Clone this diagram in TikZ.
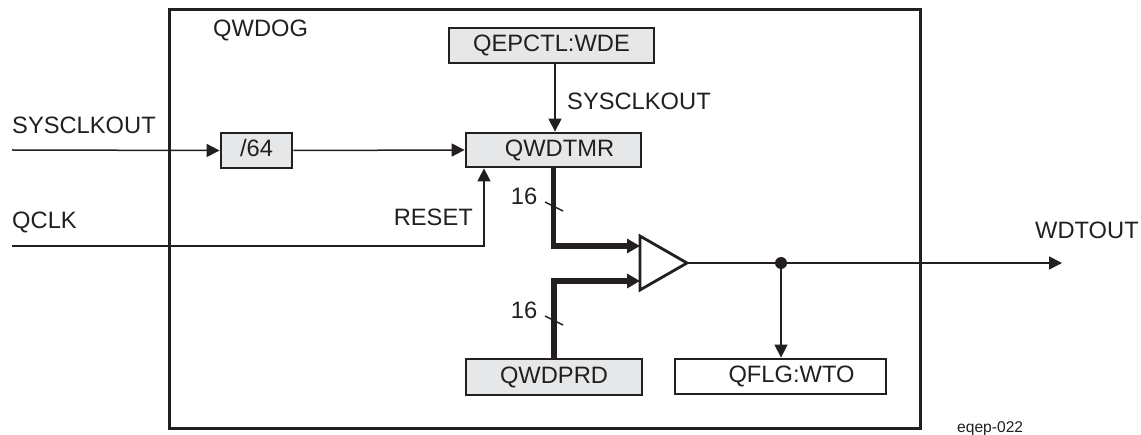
\documentclass[tikz,border=0pt]{standalone}
\usepackage{fontspec}
\setmainfont{Liberation Sans}
\usetikzlibrary{arrows.meta}
\definecolor{boxgray}{HTML}{E6E7E8}
\definecolor{ink}{HTML}{231F20}
\begin{document}
\begin{tikzpicture}[x=1pt,y=-1pt,
  every node/.style={font=\fontsize{23.7}{28}\selectfont, inner sep=0pt, text=ink},
  blk/.style={draw=ink, line width=2.8pt, fill=boxgray, rectangle},
  wire/.style={draw=ink, line width=1.5pt},
  arr/.style={-{Triangle[length=13pt,width=13pt]}},
  bus/.style={draw=ink, line width=5.5pt},
  busarr/.style={-{Triangle[length=13pt,width=14pt]}}
]
\useasboundingbox (0,0) rectangle (1141,435);

% container
\node[draw=ink, line width=3pt, minimum width=751pt, minimum height=419pt] (qwdog) at (544.5,219.5) {};
\node[anchor=west] (qwdoglbl) at (213,30) {QWDOG};

% blocks
\node[blk, minimum width=205pt, minimum height=35pt] (wde) at (551.5,45.5) {QEPCTL:WDE};
\node[blk, minimum width=175pt, minimum height=34pt] (tmr) at (553.5,150) {\hspace*{12pt}QWDTMR};
\node[blk, minimum width=71pt, minimum height=35pt] (div) at (256.5,150.5) {\raisebox{5pt}{/64}};
\node[blk, minimum width=176pt, minimum height=36pt] (prd) at (554,377) {QWDPRD};
\node[blk, fill=white, minimum width=211pt, minimum height=35pt] (flg) at (780.5,376.5) {\hspace*{22pt}QFLG:WTO};

% free ends
\coordinate (sysin) at (12,150);
\coordinate (qclkin) at (12,246);
\coordinate (rst) at (484,246);
\coordinate (clkx) at (555,0);
\coordinate (cmpA) at (640,246);
\coordinate (cmpB) at (640,281);
\coordinate (cmpO) at (687,263);
\coordinate (jn) at (781,263);
\coordinate (wdtout) at (1062,263);

% labels
\node[anchor=west] (lsys) at (12,125) {SYSCLKOUT};
\node[anchor=west] (lqclk) at (12,222) {QCLK};
\node[anchor=west] (lsys2) at (567,101) {SYSCLKOUT};
\node[anchor=east] (lrst) at (473,217) {RESET};
\node (l16a) at (524,196) {16};
\node (l16b) at (524,310) {16};
\node[anchor=west] (lwdt) at (1035,230) {WDTOUT};
\node[anchor=base west, font=\fontsize{15.6}{18}\selectfont] (fig) at (957,433) {eqep-022};

% connectors
\draw[wire, arr] (sysin) -- (div.west);
\draw[wire, arr] (div.east) -- (tmr.west);
\draw[wire, arr] (wde.south -| clkx) -- (tmr.north -| clkx);
\draw[wire, arr] (qclkin) -- (rst) -- (rst |- tmr.south);

% buses
\draw[bus, busarr] (tmr.south) |- (cmpA);
\draw[bus, busarr] (prd.north) |- (cmpB);
\draw[wire] (545,202) -- (563,211);
\draw[wire] (545,316) -- (563,325);

% comparator
\draw[draw=ink, line width=2.8pt, fill=white, line join=miter] (640,236) -- (cmpO) -- (640,290) -- cycle;

% output
\draw[wire, arr] (cmpO) -- (wdtout);
\fill[ink] (jn) circle (6pt);
\draw[wire, arr] (jn) -- (jn |- flg.north);
\end{tikzpicture}
\end{document}
